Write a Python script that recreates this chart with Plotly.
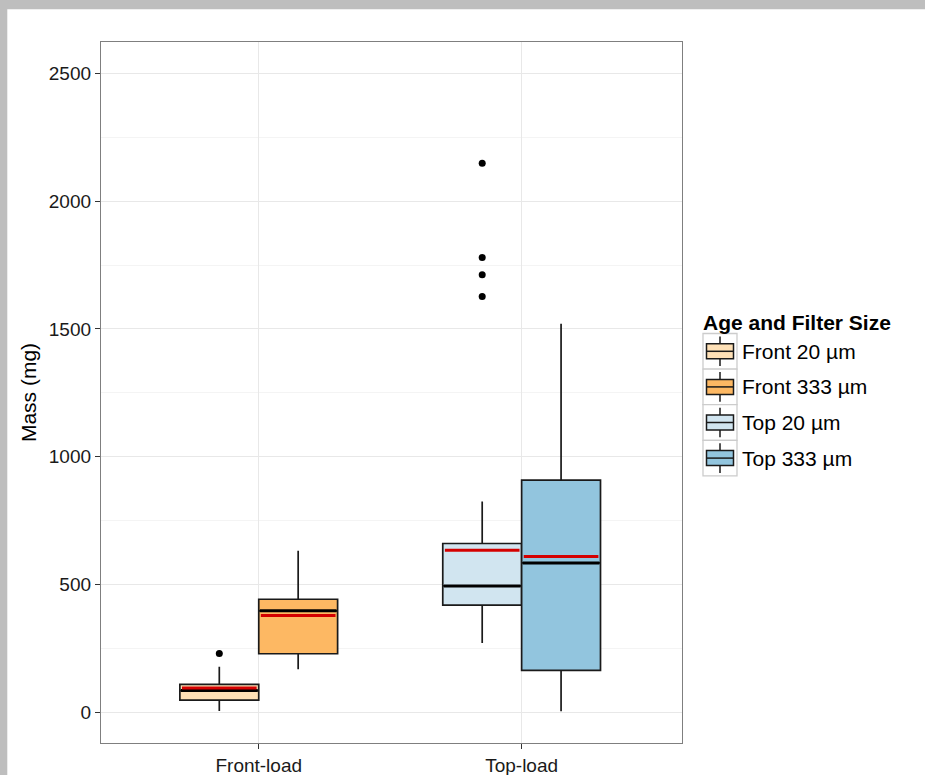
import plotly.graph_objects as go

# ---------------- data ----------------
categories = ["Front-load", "Top-load"]
groups = ["Front 20 µm", "Front 333 µm", "Top 20 µm", "Top 333 µm"]
group_category = [0, 0, 1, 1]
group_side = [-1, 1, -1, 1]
fill_colors = ["#fee0b6", "#fdb863", "#d1e5f0", "#92c5de"]

q1 = [49, 230, 420, 165]
median = [86, 398, 495, 585]
q3 = [110, 443, 661, 909]
lower_whisker = [6, 169, 272, 5]
upper_whisker = [179, 633, 825, 1520]
mean = [96, 380, 635, 610]
outliers = [[231], [], [2148, 1779, 1712, 1627], []]

y_ticks = [0, 500, 1000, 1500, 2000, 2500]

# ---------------- layout geometry ----------------
W, H = 925, 775
L, R, T, B = 101, 682, 42, 743          # plot panel in pixels
BOX_W = 0.3
XR = [0.4, 2.61]
YR = [-119, 2622]
FONT = "Liberation Sans, Arial, sans-serif"


def px(xp):
    return (xp - L) / (R - L)


def py(yp):
    return (B - yp) / (B - T)


fig = go.Figure()

for i, g in enumerate(groups):
    xc = group_category[i] + 1 + group_side[i] * BOX_W / 2
    fig.add_trace(go.Box(
        x=[xc], q1=[q1[i]], median=[median[i]], q3=[q3[i]],
        lowerfence=[lower_whisker[i]], upperfence=[upper_whisker[i]],
        width=BOX_W, whiskerwidth=0, fillcolor=fill_colors[i],
        line=dict(color="#1a1a1a", width=1.7), boxpoints=False,
        name=g, showlegend=False, hoverinfo="skip"))
    fig.add_trace(go.Scatter(
        x=[xc - BOX_W / 2 + 0.004, xc + BOX_W / 2 - 0.004], y=[median[i], median[i]],
        mode="lines", line=dict(color="#000000", width=3),
        showlegend=False, hoverinfo="skip"))
    fig.add_trace(go.Scatter(
        x=[xc - BOX_W / 2 + 0.008, xc + BOX_W / 2 - 0.008], y=[mean[i], mean[i]],
        mode="lines", line=dict(color="#d40000", width=3),
        showlegend=False, hoverinfo="skip"))
    if outliers[i]:
        fig.add_trace(go.Scatter(
            x=[xc] * len(outliers[i]), y=outliers[i], mode="markers",
            marker=dict(color="#000000", size=7),
            showlegend=False, hoverinfo="skip"))

shapes = []
annotations = []

shapes.append(dict(type="rect", xref="paper", yref="paper",
                   x0=px(-5), x1=px(W + 5), y0=py(9.3), y1=py(-5),
                   fillcolor="#bebebe", line=dict(width=0), layer="below"))
shapes.append(dict(type="rect", xref="paper", yref="paper",
                   x0=px(-5), x1=px(7.3), y0=py(H + 5), y1=py(-5),
                   fillcolor="#bebebe", line=dict(width=0), layer="below"))

annotations.append(dict(text="<b>Age and Filter Size</b>", xref="paper", yref="paper",
                        x=px(701), y=py(322), xanchor="left", yanchor="middle",
                        showarrow=False, font=dict(family=FONT, size=21, color="#000000")))
row_top = 333.5
row_h = 35.6
key_l, key_r = 703, 737
for i, g in enumerate(groups):
    t0 = row_top + i * row_h
    t1 = t0 + row_h
    cy = (t0 + t1) / 2
    cx = (key_l + key_r) / 2
    shapes.append(dict(type="rect", xref="paper", yref="paper",
                       x0=px(key_l), x1=px(key_r), y0=py(t1), y1=py(t0),
                       fillcolor="#ffffff", line=dict(color="#cccccc", width=1.3)))
    shapes.append(dict(type="line", xref="paper", yref="paper",
                       x0=px(cx), x1=px(cx), y0=py(t0 + 3), y1=py(t1 - 3),
                       line=dict(color="#1a1a1a", width=1.5)))
    shapes.append(dict(type="rect", xref="paper", yref="paper",
                       x0=px(cx - 13.5), x1=px(cx + 13.5), y0=py(cy + 7.5), y1=py(cy - 7.5),
                       fillcolor=fill_colors[i], line=dict(color="#1a1a1a", width=1.5)))
    shapes.append(dict(type="line", xref="paper", yref="paper",
                       x0=px(cx - 13.5), x1=px(cx + 13.5), y0=py(cy), y1=py(cy),
                       line=dict(color="#1a1a1a", width=1.5)))
    annotations.append(dict(text=g, xref="paper", yref="paper",
                            x=px(740), y=py(cy), xanchor="left", yanchor="middle",
                            showarrow=False, font=dict(family=FONT, size=21, color="#000000")))

fig.update_layout(
    width=W, height=H, autosize=False,
    margin=dict(l=L, r=W - R, t=T, b=H - B, pad=0, autoexpand=False),
    paper_bgcolor="#ffffff", plot_bgcolor="#ffffff",
    font=dict(family=FONT, color="#1a1a1a"),
    showlegend=False,
    boxmode="overlay",
    shapes=shapes, annotations=annotations,
    xaxis=dict(range=XR, tickmode="array", tickvals=[1, 2], ticktext=categories,
               showgrid=True, gridcolor="#e8e8e8", gridwidth=1.3,
               showline=True, mirror=True, linecolor="#7f7f7f", linewidth=1.3,
               ticks="outside", ticklen=5, tickwidth=1.3, tickcolor="#333333",
               tickfont=dict(family=FONT, size=19, color="#1a1a1a"),
               zeroline=False, fixedrange=True, automargin=False),
    yaxis=dict(range=YR, tickmode="array", tickvals=y_ticks,
               showgrid=True, gridcolor="#e8e8e8", gridwidth=1.3,
               minor=dict(tick0=250, dtick=500, showgrid=True, gridcolor="#f4f4f4", gridwidth=1.3),
               showline=True, mirror=True, linecolor="#7f7f7f", linewidth=1.3,
               ticks="outside", ticklen=5, tickwidth=1.3, tickcolor="#333333",
               tickfont=dict(family=FONT, size=19, color="#1a1a1a"),
               title=dict(text="Mass (mg)", font=dict(family=FONT, size=21, color="#000000"),
                          standoff=6),
               zeroline=False, fixedrange=True, automargin=False),
)

fig.write_html("out.html", config={"responsive": False})
